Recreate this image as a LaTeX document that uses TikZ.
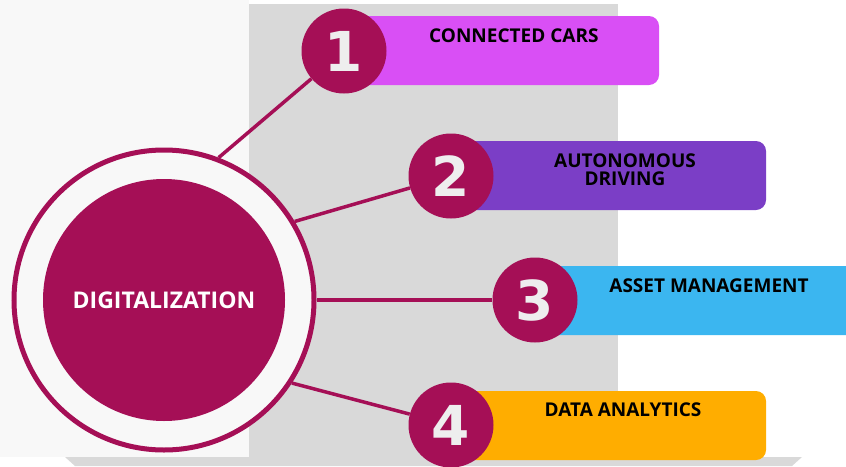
\documentclass[tikz,border=0pt]{standalone}
\usepackage{fontspec}
\setmainfont{Open Sans}
\newfontfamily\numfont{DejaVu Sans}
\definecolor{vinho}{HTML}{A50F56}
\definecolor{painel}{HTML}{D9D9D9}
\definecolor{fundoclaro}{HTML}{F8F8F8}
\definecolor{cinzaclaro}{HTML}{EEEEEE}
\definecolor{rosa}{HTML}{D94FF5}
\definecolor{roxo}{HTML}{7B3EC6}
\definecolor{azul}{HTML}{3BB6F0}
\definecolor{laranja}{HTML}{FFAD00}
\newcommand{\barra}[5]{%
  % #1 = x esquerdo, #2 = y topo, #3 = x direito, #4 = y base, #5 = cor
  \fill[#5, rounded corners=10] (#1,#2) rectangle (#3,#4);
}

\begin{document}
\begin{tikzpicture}[x=1pt, y=-1pt,
    num/.style={circle, fill=vinho, text=cinzaclaro, minimum size=85, inner sep=0,
      font=\numfont\bfseries\fontsize{55}{55}\selectfont},
    rotulo/.style={text=black, inner sep=0, font=\bfseries\fontsize{19}{18}\selectfont},
    ligacao/.style={vinho, line width=3.5}]
    \useasboundingbox (0,0) rectangle (846,466);

    % fundo e painel cinza
    \fill[fundoclaro] (0,0) rectangle (249,457);
    \fill[painel] (249,4) rectangle (618,457);
    \fill[painel] (65,457) -- (802,457) -- (792,466) -- (75,466) -- cycle;

    % barras coloridas
    \barra{330}{16}{659}{85}{rosa}
    \barra{430}{141}{766}{210}{roxo}
    \barra{515}{266}{856}{335}{azul}
    \barra{430}{391}{766}{460}{laranja}

    % circulo central
    \node[circle, draw=vinho, line width=5, fill=fundoclaro, minimum size=300] (anel) at (164,300) {};
    \node[circle, fill=vinho, minimum size=242, text=white,
      font=\bfseries\fontsize{23}{23}\selectfont] (centro) at (164,300) {DIGITALIZATION};

    % numeros
    \node[num] (n1) at (344,51) {1};
    \node[num] (n2) at (451,176) {2};
    \node[num] (n3) at (535,300) {3};
    \node[num] (n4) at (451,425) {4};

    \draw[ligacao] (anel.69) -- (n1);
    \draw[ligacao] (anel.31) -- (n2);
    \draw[ligacao] (anel.east) -- (n3);
    \draw[ligacao] (anel.-33) -- (n4);

    % textos
    \node[rotulo, anchor=west] (t1) at (429,36) {CONNECTED CARS};
    \node[rotulo, align=center] (t2) at (625,170) {AUTONOMOUS\\DRIVING};
    \node[rotulo] (t3) at (709,286) {ASSET MANAGEMENT};
    \node[rotulo] (t4) at (623,410) {DATA ANALYTICS};
\end{tikzpicture}
\end{document}
